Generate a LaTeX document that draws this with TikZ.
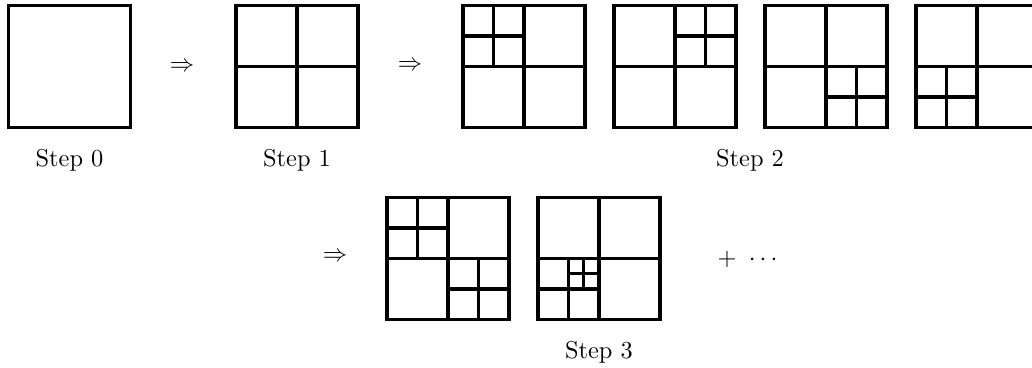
\documentclass[tikz,border=0pt]{standalone}
\usepackage{tikz}
\usetikzlibrary{positioning}

% cross through the middle of a cell
\newcommand{\quadcut}[1]{\draw[cut] (#1.north) -- (#1.south) (#1.west) -- (#1.east);}

\begin{document}
\begin{tikzpicture}[
    x=0.41pt, y=-0.41pt,
    node distance=11.9pt,
    cell/.style={draw, line width=1.3pt, minimum size=50pt, inner sep=0pt, outer sep=0pt},
    quad/.style={cell, minimum size=25pt},
    subquad/.style={cell, minimum size=12.5pt},
    cut/.style={line width=1.3pt},
    lbl/.style={inner sep=3.33pt}
]
\useasboundingbox (0,0) rectangle (1032,367);

% step 0
\node[cell] (s0) at (69.5,66.5) {};
\node[lbl, below=5.6pt of s0] (l0) {Step 0};
\node (r1) at (182,67) {$\Rightarrow$};

% step 1
\node[cell] (s1) at (297,66.5) {};
\quadcut{s1}
\node[lbl, below=5.6pt of s1] (l1) {Step 1};
\node (r2) at (410,66) {$\Rightarrow$};

% step 2
\node[cell] (s2a) at (524,66.5) {};
\node[cell, right=of s2a] (s2b) {};
\node[cell, right=of s2b] (s2c) {};
\node[cell, right=of s2c] (s2d) {};
\quadcut{s2a} \quadcut{s2b} \quadcut{s2c} \quadcut{s2d}
\node[quad, anchor=north west] (q2a) at (s2a.north west) {};
\node[quad, anchor=north east] (q2b) at (s2b.north east) {};
\node[quad, anchor=south east] (q2c) at (s2c.south east) {};
\node[quad, anchor=south west] (q2d) at (s2d.south west) {};
\quadcut{q2a} \quadcut{q2b} \quadcut{q2c} \quadcut{q2d}
\node[lbl] (l2) at (750,160) {Step 2};

% step 3
\node (r3) at (335,257) {$\Rightarrow$};
\node[cell] (s3a) at (448,258.5) {};
\node[cell, right=of s3a] (s3b) {};
\quadcut{s3a} \quadcut{s3b}
\node[quad, anchor=north west] (q3a) at (s3a.north west) {};
\node[quad, anchor=south east] (q3b) at (s3a.south east) {};
\node[quad, anchor=south west] (q3c) at (s3b.south west) {};
\node[subquad, anchor=north east] (q3d) at (q3c.north east) {};
\quadcut{q3a} \quadcut{q3b} \quadcut{q3c} \quadcut{q3d}
\node[lbl, below=5.6pt of s3b] (l3) {Step 3};
\node (more) at (747.5,259) {$+\ \cdots$};
\end{tikzpicture}
\end{document}
